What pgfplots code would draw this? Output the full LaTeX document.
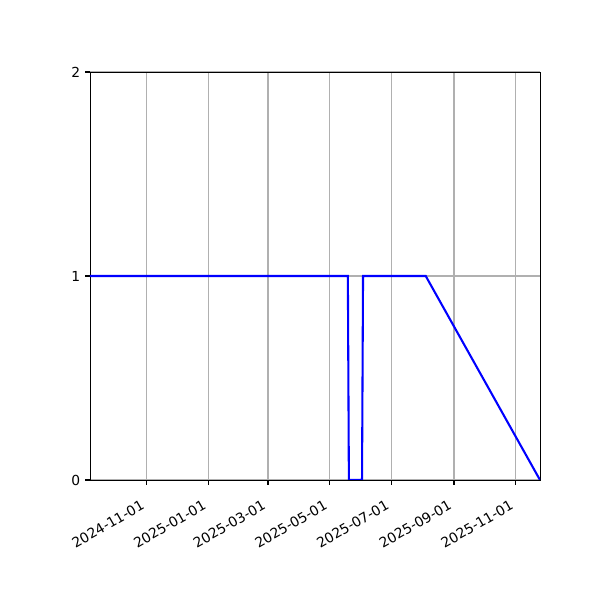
\documentclass[border=0pt]{standalone}
\usepackage{pgfplots}
\pgfplotsset{compat=1.18}
\usepackage{fontspec}
\setmainfont{DejaVu Sans}
\begin{document}
\begin{tikzpicture}
% canvas 600x600 px, 1 px = 0.01in
\path[use as bounding box] (0,0) rectangle (6in,6in);
\begin{axis}[
  at={(0.9in,1.2in)}, anchor=south west,
  scale only axis, width=4.5in, height=4.08in,
  xmin=-56, xmax=389, ymin=0, ymax=2,
  xtick={0,61,120,181,242,304,365},
  xticklabels={2024-11-01,2025-01-01,2025-03-01,2025-05-01,2025-07-01,2025-09-01,2025-11-01},
  ytick={0,1,2},
  xtick pos=bottom, ytick pos=left,
  tick align=outside,
  major tick length=3.5pt,
  every tick/.style={black, line width=0.8pt},
  axis line style={line width=0.7pt},
  grid=major,
  major grid style={color=black!31, line width=0.8pt},
  x tick label style={xshift=-4.3pt, yshift=-8.9pt, rotate=30, anchor=north east, inner sep=1pt, font=\fontsize{10}{12}\selectfont},
  y tick label style={font=\fontsize{10}{12}\selectfont},
  /pgf/number format/assume math mode=true,
]
\addplot[color=blue, line width=1.5pt] coordinates {
  (-56,1) (199,1) (200,0) (213,0) (214,1) (276,1) (389,0)
};
\end{axis}
\end{tikzpicture}
\end{document}
